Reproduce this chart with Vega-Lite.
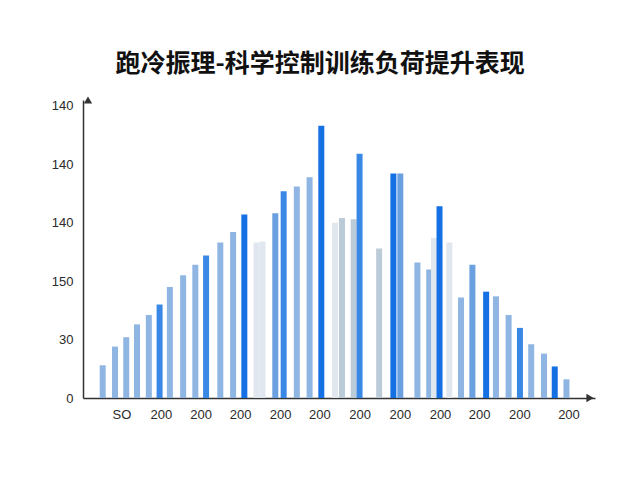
{
  "$schema": "https://vega.github.io/schema/vega-lite/v6.json",
  "autosize": "none",
  "padding": {"left": 83, "top": 100, "right": 45, "bottom": 82},
  "width": 512,
  "height": 298,
  "background": "white",
  "title": {
    "text": "跑冷振理-科学控制训练负荷提升表现",
    "font": "Noto Sans CJK SC",
    "fontSize": 25,
    "fontWeight": "bold",
    "color": "#111111",
    "anchor": "middle",
    "dx": -19,
    "offset": 19
  },
  "config": {
    "view": {"stroke": null},
    "axis": {
      "grid": false,
      "ticks": false,
      "domainColor": "#333333",
      "domainWidth": 1.5,
      "labelFont": "Liberation Sans",
      "labelFontSize": 13,
      "labelColor": "#2a2a2a",
      "title": null
    }
  },
  "layer": [
    {
      "data": {
        "values": [
          {"p": 1.23, "v": 28, "tone": "light"},
          {"p": 2.26, "v": 44, "tone": "light"},
          {"p": 3.2, "v": 52, "tone": "light"},
          {"p": 4.1, "v": 63, "tone": "light"},
          {"p": 5.09, "v": 71, "tone": "light"},
          {"p": 5.99, "v": 80, "tone": "mid"},
          {"p": 6.85, "v": 95, "tone": "light"},
          {"p": 7.96, "v": 105, "tone": "light"},
          {"p": 8.98, "v": 114, "tone": "light"},
          {"p": 9.88, "v": 122, "tone": "mid"},
          {"p": 11.07, "v": 133, "tone": "light"},
          {"p": 12.14, "v": 142, "tone": "light"},
          {"p": 13.08, "v": 157, "tone": "bright"},
          {"p": 14.1, "v": 133, "tone": "pale"},
          {"p": 14.6, "v": 134, "tone": "pale"},
          {"p": 15.67, "v": 158, "tone": "soft"},
          {"p": 16.37, "v": 177, "tone": "mid"},
          {"p": 17.47, "v": 181, "tone": "light"},
          {"p": 18.54, "v": 189, "tone": "light"},
          {"p": 19.52, "v": 233, "tone": "bright"},
          {"p": 20.67, "v": 150, "tone": "pale"},
          {"p": 21.25, "v": 154, "tone": "grey"},
          {"p": 22.23, "v": 153, "tone": "grey"},
          {"p": 22.72, "v": 209, "tone": "mid"},
          {"p": 24.36, "v": 128, "tone": "grey"},
          {"p": 25.55, "v": 192, "tone": "bright"},
          {"p": 26.13, "v": 192, "tone": "soft"},
          {"p": 27.56, "v": 116, "tone": "light"},
          {"p": 28.55, "v": 110, "tone": "light"},
          {"p": 28.95, "v": 137, "tone": "pale"},
          {"p": 29.41, "v": 164, "tone": "bright"},
          {"p": 30.23, "v": 133, "tone": "pale"},
          {"p": 31.21, "v": 86, "tone": "light"},
          {"p": 32.16, "v": 114, "tone": "soft"},
          {"p": 33.31, "v": 91, "tone": "bright"},
          {"p": 34.13, "v": 87, "tone": "light"},
          {"p": 35.19, "v": 71, "tone": "light"},
          {"p": 36.14, "v": 60, "tone": "mid"},
          {"p": 37.08, "v": 46, "tone": "light"},
          {"p": 38.15, "v": 38, "tone": "light"},
          {"p": 39.05, "v": 27, "tone": "bright"},
          {"p": 40.03, "v": 16, "tone": "light"}
        ]
      },
      "mark": {"type": "bar", "width": 6},
      "encoding": {
        "x": {
          "field": "p",
          "type": "quantitative",
          "scale": {"domain": [0, 42], "nice": false, "zero": false},
          "axis": {
            "values": [2.8, 6.1, 9.43, 12.72, 16.08, 19.36, 22.72, 26.09, 29.45, 32.73, 36.09, 40.2],
            "labelExpr": "datum.value < 4 ? 'SO' : '200'",
            "labelPadding": 10
          }
        },
        "y": {
          "field": "v",
          "type": "quantitative",
          "scale": {"domain": [0, 255], "nice": false},
          "axis": {
            "values": [0, 50, 100, 150, 200, 250],
            "labelExpr": "datum.value == 0 ? '0' : datum.value == 50 ? '30' : datum.value == 100 ? '150' : '140'",
            "labelPadding": 10
          }
        },
        "color": {
          "field": "tone",
          "type": "nominal",
          "legend": null,
          "scale": {
            "domain": ["bright", "mid", "soft", "light", "grey", "pale"],
            "range": ["#1570e4", "#3a88e6", "#6aa0df", "#8fb5e3", "#bccbd8", "#e1e7ee"]
          }
        }
      }
    },
    {
      "data": {"values": [{"p": 0, "v": 255, "dir": "up"}, {"p": 42, "v": 0, "dir": "right"}]},
      "mark": {"type": "point", "filled": true, "size": 70, "opacity": 1, "color": "#333333"},
      "encoding": {
        "x": {"field": "p", "type": "quantitative"},
        "y": {"field": "v", "type": "quantitative"},
        "shape": {
          "field": "dir",
          "type": "nominal",
          "legend": null,
          "scale": {"domain": ["up", "right"], "range": ["triangle-up", "triangle-right"]}
        }
      }
    }
  ]
}
